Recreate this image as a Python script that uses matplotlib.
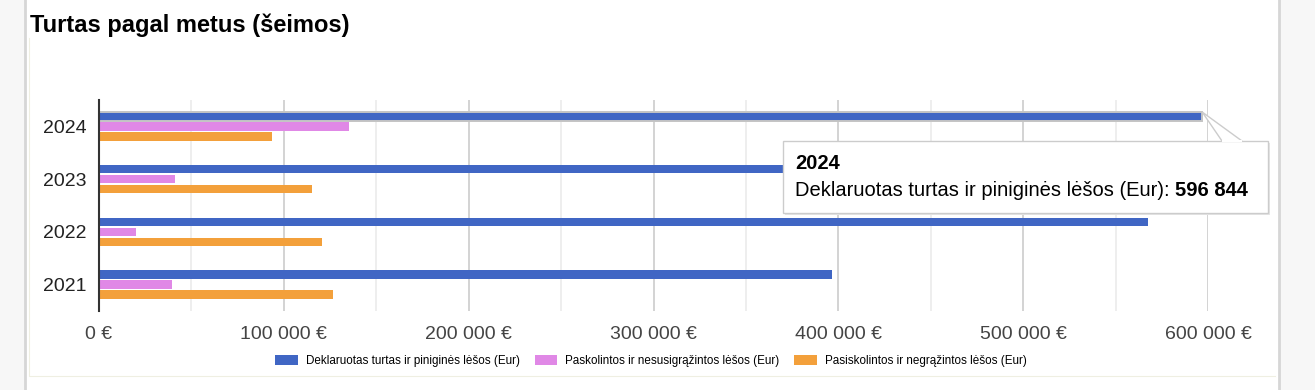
import matplotlib.pyplot as plt
import matplotlib.patches as mpatches
import numpy as np

plt.rcParams['font.family'] = ['Liberation Sans', 'DejaVu Sans']

# ----------------------------
# Data
# ----------------------------
years = ["2021", "2022", "2023", "2024"]
turtas = [396700, 567600, 520000, 596844]      # Deklaruotas turtas ir piniginės lėšos
paskolintos = [39500, 20200, 41200, 135000]    # Paskolintos ir nesusigrąžintos lėšos
pasiskolintos = [126600, 120400, 115000, 93700]  # Pasiskolintos ir negrąžintos lėšos

labels = ["Deklaruotas turtas ir piniginės lėšos (Eur)",
          "Paskolintos ir nesusigrąžintos lėšos (Eur)",
          "Pasiskolintos ir negrąžintos lėšos (Eur)"]
colors = ["#4066c4", "#e088e6", "#f3a03b"]

xticks = np.arange(0, 600001, 100000)
xtick_labels = ["0 €", "100 000 €", "200 000 €", "300 000 €",
                "400 000 €", "500 000 €", "600 000 €"]

W, H = 1315, 390
fig = plt.figure(figsize=(W / 100, H / 100), dpi=100)

# page background: grey side bands, white panel
fig.patches.append(mpatches.Rectangle((0, 0), 1, 1, transform=fig.transFigure,
                                      facecolor="#f7f7f7", edgecolor="none", zorder=-10))
fig.patches.append(mpatches.Rectangle((26 / W, 0), (1279 - 26) / W, 1, transform=fig.transFigure,
                                      facecolor="white", edgecolor="none", zorder=-9))
for xl in (25, 1279):
    fig.lines.append(plt.Line2D([xl / W, xl / W], [0, 1], transform=fig.transFigure,
                                color="#d6d6d6", lw=2, zorder=-8))
# faint container edge (left + bottom)
fig.lines.append(plt.Line2D([29 / W, 29 / W, 1275 / W], [1 - 38 / H, 1 - 376 / H, 1 - 376 / H],
                            transform=fig.transFigure, color="#efefe2", lw=0.8, zorder=-7))

fig.text(30 / W, 1 - 25 / H, "Turtas pagal metus (šeimos)", fontsize=17,
         fontweight="bold", va="center", ha="left")

ax = fig.add_axes([99 / W, 1 - 311 / H, (1208 - 99) / W, (311 - 100) / H])
ax.set_facecolor("none")

y = np.arange(len(years))
bh = 0.165
off = 0.19
series = [turtas, paskolintos, pasiskolintos]
bars = []
for i, vals in enumerate(series):
    b = ax.barh(y + off * (1 - i), vals, height=bh, color=colors[i], label=labels[i], zorder=3)
    bars.append(b)

# hovered bar outline (2024, first series)
hb = bars[0][3]
hb.set_edgecolor("#c4c4c4")
hb.set_linewidth(1.4)

ax.set_xlim(0, 600000)
ax.set_ylim(-0.5, len(years) - 0.5)
ax.set_yticks(y)
ax.set_yticklabels(years, fontsize=14, color="#222222")
ax.set_xticks(xticks)
ax.set_xticklabels(xtick_labels, fontsize=14, color="#444444")
ax.set_xticks(np.arange(50000, 600000, 100000), minor=True)
ax.tick_params(axis="both", length=0, which="both")
ax.tick_params(axis="x", pad=11)
ax.tick_params(axis="y", pad=9)
ax.grid(axis="x", which="major", color="#cccccc", lw=1.2, zorder=0)
ax.grid(axis="x", which="minor", color="#ebebeb", lw=1.2, zorder=0)
for s in ("top", "right", "bottom"):
    ax.spines[s].set_visible(False)
ax.spines["left"].set_color("#333333")
ax.spines["left"].set_linewidth(1.5)
ax.spines["left"].set_zorder(5)

fig.legend(loc="center", bbox_to_anchor=(651 / W, 1 - 361 / H), ncol=3, frameon=False,
           fontsize=8.4, handlelength=1.9, handleheight=0.85, columnspacing=1.3,
           handletextpad=0.7)

# tooltip for hovered bar
fig.canvas.draw()
tip = fig.transFigure.inverted().transform(
    ax.transData.transform((turtas[3], y[3] + off + bh / 2)))
bx0, by0, bx1, by1 = 783 / W, 1 - 213 / H, 1268 / W, 1 - 141 / H
pointer = mpatches.Polygon([tip, (1222 / W, by1), (1242 / W, by1)], closed=True,
                           transform=fig.transFigure, facecolor="white",
                           edgecolor="#cccccc", lw=1, zorder=20)
fig.patches.append(pointer)
fig.patches.append(mpatches.Rectangle((bx0 + 2 / W, by0 - 2 / H), bx1 - bx0, by1 - by0,
                                      transform=fig.transFigure, facecolor="#e6e6e6",
                                      edgecolor="none", zorder=20))
fig.patches.append(mpatches.Rectangle((bx0, by0), bx1 - bx0, by1 - by0,
                                      transform=fig.transFigure, facecolor="white",
                                      edgecolor="#cccccc", lw=1, zorder=21))
fig.lines.append(plt.Line2D([1223 / W, 1241 / W], [by1, by1], transform=fig.transFigure,
                            color="white", lw=1.5, zorder=22))
fig.text(795 / W, 1 - 163 / H, years[3], fontsize=14.5, fontweight="bold",
         va="center", ha="left", zorder=23)
t1 = fig.text(795 / W, 1 - 190 / H, labels[0] + ": ", fontsize=14.5,
              va="center", ha="left", zorder=23)
fig.canvas.draw()
ext = t1.get_window_extent()
x_after = fig.transFigure.inverted().transform((ext.x1, ext.y0))[0]
fig.text(x_after, 1 - 190 / H, f"{turtas[3]:,}".replace(",", " "), fontsize=14.5,
         fontweight="bold", va="center", ha="left", zorder=23)

fig.savefig("out.png", dpi=100)
